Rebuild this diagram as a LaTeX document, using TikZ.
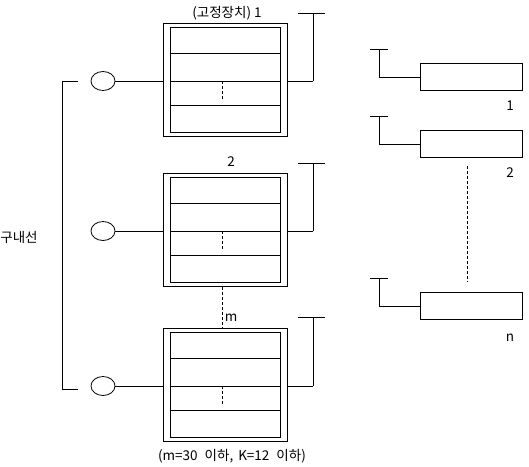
\documentclass[tikz,border=0pt]{standalone}
\usepackage{fontspec}
\setmainfont{Noto Sans CJK KR}
\usetikzlibrary{shapes.geometric}
\begin{document}
\begin{tikzpicture}[x=1pt,y=-1pt,line width=0.8pt,
  lbl/.style={inner sep=0pt,font=\fontsize{13.5}{15}\selectfont},
  outerbox/.style={draw,minimum width=124pt,minimum height=113pt,inner sep=0pt},
  innerbox/.style={draw,minimum width=110pt,minimum height=105pt,inner sep=0pt},
  port/.style={draw,ellipse,minimum width=24pt,minimum height=19pt,inner sep=0pt},
  term/.style={draw,minimum width=102pt,minimum height=27pt,inner sep=0pt},
  dsh/.style={dash pattern=on 3pt off 2pt}]
\useasboundingbox (0,0) rectangle (529,466);
% ---- left bracket ----
\node[lbl,anchor=west] (kn) at (0,237) {구내선};
\coordinate (b1) at (62,81);
\coordinate (b3) at (62,389);
\coordinate (t1) at (78,81);
\coordinate (t3) at (78,389);
\draw (t1) -- (b1) -- (b3) -- (t3);
% ---- three stations ----
\foreach \i/\y in {1/80,2/230,3/385}{
  \node[port] (c\i) at (103,\y+1) {};
  \node[outerbox] (o\i) at (225,\y) {};
  \node[innerbox] (in\i) at (225,\y) {};
  \coordinate (l\i a) at (170,\y-27);
  \coordinate (l\i b) at (280,\y-27);
  \coordinate (m\i a) at (170,\y+1);
  \coordinate (m\i b) at (280,\y+1);
  \coordinate (n\i a) at (170,\y+25);
  \coordinate (n\i b) at (280,\y+25);
  \draw (l\i a) -- (l\i b);
  \draw (m\i a) -- (m\i b);
  \draw (n\i a) -- (n\i b);
  \coordinate (d\i a) at (222,\y+1);
  \coordinate (d\i b) at (222,\y+19);
  \draw[dsh] (d\i a) -- (d\i b);
  \draw (c\i.east) -- (o\i.west |- c\i.east);
  \coordinate (r\i) at (313,\y+1);
  \draw (o\i.east |- r\i) -- (r\i);
}
% right connectors with T-tops
\coordinate (u1) at (313,13);
\coordinate (ua1) at (298,13);
\coordinate (ub1) at (325,13);
\draw (r1) -- (u1); \draw (ua1) -- (ub1);
\coordinate (u2) at (313,163);
\coordinate (ua2) at (298,163);
\coordinate (ub2) at (325,163);
\draw (r2) -- (u2); \draw (ua2) -- (ub2);
\coordinate (u3) at (313,318);
\coordinate (ua3) at (298,317);
\coordinate (ub3) at (325,317);
\draw (r3) -- (u3); \draw (ua3) -- (ub3);
% labels
\node[lbl] (h1) at (227,13) {(고정장치) 1};
\node[lbl] (h2) at (231,162) {2};
\node[lbl] (hm) at (231,318) {m};
\node[lbl] (hb) at (232,456) {(m=30\hspace{7pt}이하,\hspace{5pt}K=12\hspace{7pt}이하)};
\draw[dsh] (o2.south -| d2a) -- (o3.north -| d2a);
% ---- right terminals ----
\foreach \i/\y/\t in {1/77/1,2/144/2,3/306/n}{
  \node[term] (k\i) at (471,\y) {};
  \coordinate (kc\i) at (379,\y);
  \coordinate (kt\i) at (379,\y-28);
  \coordinate (kta\i) at (370,\y-28);
  \coordinate (ktb\i) at (388,\y-28);
  \draw (k\i.west) -- (kc\i) -- (kt\i);
  \draw (kta\i) -- (ktb\i);
}
\node[lbl] (kl1) at (510,106) {1};
\node[lbl] (kl2) at (510,173) {2};
\node[lbl] (kl3) at (510,338) {n};
\coordinate (kd1) at (467,166);
\coordinate (kd2) at (467,282);
\draw[dsh] (kd1) -- (kd2);
\end{tikzpicture}
\end{document}
